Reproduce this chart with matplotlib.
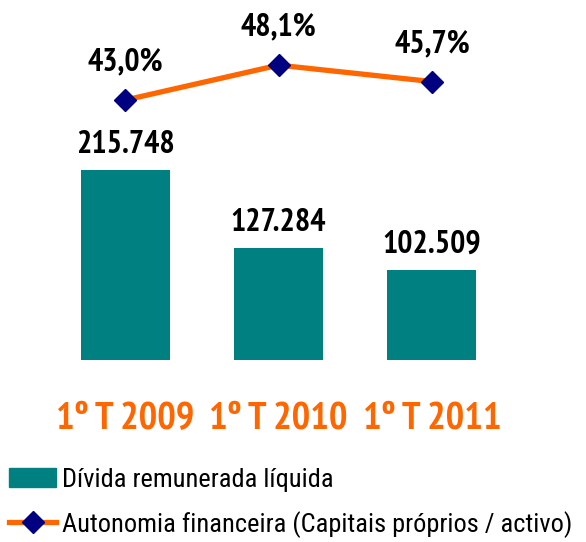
import matplotlib
matplotlib.use('Agg')
import matplotlib.pyplot as plt
import matplotlib.lines as mlines
import matplotlib.patches as mpatches

# data
periods = ['1º T 2009', '1º T 2010', '1º T 2011']
divida = [215.748, 127.284, 102.509]
divida_labels = ['215.748', '127.284', '102.509']
autonomia = [43.0, 48.1, 45.7]
autonomia_labels = ['43,0%', '48,1%', '45,7%']

kTeal = '#008080'
kOrange = '#FF6600'
kNavy = '#000080'
plt.rcParams['font.family'] = ['Roboto Condensed', 'DejaVu Sans']
boldfam = ['PT Sans Narrow', 'Roboto Condensed', 'DejaVu Sans']

fig = plt.figure(figsize=(5.86, 5.42), dpi=100)
ax = fig.add_axes([0.0563, 0.3358, 0.838, 0.6642])
x = list(range(len(periods)))

# bars: divida remunerada liquida
ax.bar(x, divida, width=0.58, color=kTeal)
for xi, v, lab in zip(x, divida, divida_labels):
    ax.annotate(lab, (xi, v), xytext=(0, 18), textcoords='offset points',
                ha='center', va='center', fontsize=23, fontweight='bold',
                family=boldfam)
ax.set_xlim(-0.6, 2.6)
ax.set_ylim(0, 408.8)
ax.set_xticks(x)
ax.set_xticklabels(periods, color=kOrange, fontsize=28, fontweight='bold',
                   family=boldfam)
ax.tick_params(axis='x', length=0, pad=30)
ax.set_yticks([])
for s in ax.spines.values():
    s.set_visible(False)

# line: autonomia financeira, on its own scale
ax2 = ax.twinx()
ax2.plot(x, autonomia, color=kOrange, lw=3.8, marker='D', markersize=11.5,
         markerfacecolor=kNavy, markeredgecolor=kNavy)
for xi, v, lab in zip(x, autonomia, autonomia_labels):
    ax2.annotate(lab, (xi, v), xytext=(0, 27), textcoords='offset points',
                 ha='center', va='center', fontsize=23, fontweight='bold',
                 family=boldfam)
ax2.set_ylim(5.1, 57.6)
ax2.set_yticks([])
for s in ax2.spines.values():
    s.set_visible(False)

# legend below the chart
h1 = mpatches.Patch(color=kTeal, label='Dívida remunerada líquida')
h2 = mlines.Line2D([], [], color=kOrange, lw=3.8, marker='D', markersize=11.5,
                   markerfacecolor=kNavy, markeredgecolor=kNavy,
                   label='Autonomia financeira (Capitais próprios / activo)')
fig.legend(handles=[h1, h2], loc='upper left', bbox_to_anchor=(0.015, 0.137),
           frameon=False, fontsize=19, handlelength=1.8, handletextpad=0.2,
           labelspacing=0.72, borderaxespad=0, borderpad=0)

plt.savefig('out.png', dpi=100)
